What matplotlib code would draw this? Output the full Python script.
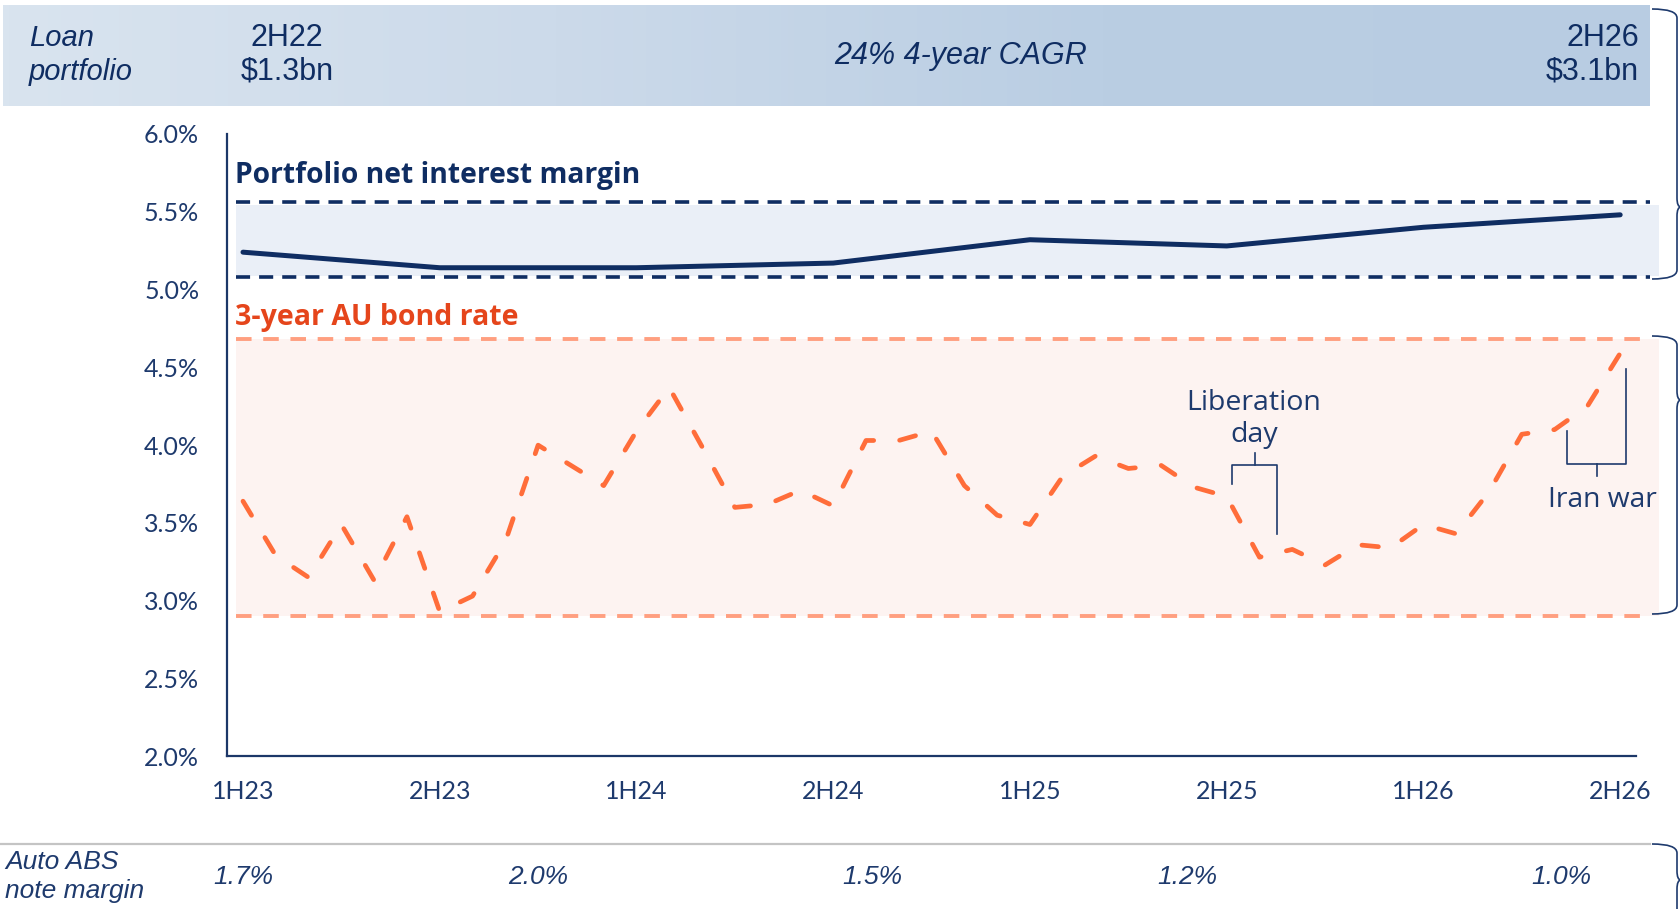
import numpy as np
import matplotlib.pyplot as plt
from matplotlib.colors import LinearSegmentedColormap
from matplotlib.lines import Line2D
from matplotlib.path import Path
from matplotlib.patches import PathPatch
from matplotlib.transforms import blended_transform_factory

W, H = 1680, 909

periods = ["1H23", "2H23", "1H24", "2H24", "1H25", "2H25", "1H26", "2H26"]
nim = [5.24, 5.14, 5.14, 5.17, 5.32, 5.28, 5.40, 5.48]
nim_range = [5.08, 5.56]

# 3-year AU bond rate, monthly from 1H23 to 2H26
bond = [3.64, 3.29, 3.15, 3.49, 3.13, 3.54, 2.93, 3.03, 3.38, 4.00,
        3.87, 3.74, 4.09, 4.37, 3.99, 3.60, 3.62, 3.71, 3.61, 4.03,
        4.03, 4.09, 3.74, 3.55, 3.49, 3.80, 3.93, 3.85, 3.87, 3.73,
        3.67, 3.28, 3.33, 3.23, 3.36, 3.34, 3.49, 3.43, 3.70, 4.07,
        4.10, 4.25, 4.59]
bond_range = [2.90, 4.68]

abs_labels = ["1.7%", "2.0%", "1.5%", "1.2%", "1.0%"]
abs_x = [0.0, 1.5, 3.2, 4.8, 6.7]

NAVY = "#0f2d62"
TXT = "#1e3a6d"
ORANGE = "#ff6d3a"
ORANGE_LT = "#ff9f80"
ORANGE_TXT = "#e5451b"
NARROW = ["Liberation Sans Narrow", "Liberation Sans", "DejaVu Sans"]
SANS = ["Lato", "DejaVu Sans"]
WIDE = ["Open Sans", "DejaVu Sans"]


def fx(x):
    return x / W


def fy(y):
    return 1 - y / H


fig = plt.figure(figsize=(W / 100, H / 100), dpi=100)

# banner with gradient
ax_b = fig.add_axes([fx(3), fy(106), fx(1647), 101 / H])
cmap = LinearSegmentedColormap.from_list("b", ["#d9e4ef", "#ccdaea", "#bacee3", "#b8cce2"])
ax_b.imshow(np.linspace(0, 1, 256)[None, :], cmap=cmap, aspect="auto", extent=[0, 1, 0, 1])
ax_b.axis("off")

fig.text(fx(29), fy(38), "Loan", color=NAVY, fontsize=21, style="italic", family=NARROW, va="center")
fig.text(fx(29), fy(72), "portfolio", color=NAVY, fontsize=21, style="italic", family=NARROW, va="center")
fig.text(fx(287), fy(38), "2H22", color=NAVY, fontsize=22, family=NARROW, ha="center", va="center")
fig.text(fx(287), fy(72), "$1.3bn", color=NAVY, fontsize=22, family=NARROW, ha="center", va="center")
fig.text(fx(961), fy(56), "24% 4-year CAGR", color=NAVY, fontsize=22, style="italic", family=NARROW,
         ha="center", va="center")
fig.text(fx(1639), fy(38), "2H26", color=NAVY, fontsize=22, family=NARROW, ha="right", va="center")
fig.text(fx(1639), fy(72), "$3.1bn", color=NAVY, fontsize=22, family=NARROW, ha="right", va="center")

# main axes
x0_px, x1_px, y_top, y_bot, step = 227, 1658.6, 133.9, 756.4, 196.74
ax = fig.add_axes([fx(x0_px), fy(y_bot), (x1_px - x0_px) / W, (y_bot - y_top) / H])
xl = ((x0_px - 243) / step, (x1_px - 243) / step)
ax.set_xlim(*xl)
ax.set_ylim(2, 6)
ax.patch.set_alpha(0)

band_l, band_r, dash_r = (235.7 - 243) / step, xl[1], (1650 - 243) / step
ax.fill_between([band_l, band_r], 5.085, 5.545, color="#eaeff7", lw=0, zorder=0)
ax.fill_between([band_l, band_r], bond_range[0], bond_range[1], color="#fdf3f1", lw=0, zorder=0)
ax.hlines(nim_range, band_l, dash_r, colors=NAVY, lw=2.6, linestyles=(0, (3.9, 2.5)), zorder=1)
ax.hlines(bond_range, band_l, dash_r, colors=ORANGE_LT, lw=2.8, linestyles=(0, (4.0, 3.0)), zorder=1)

ax.plot(np.arange(len(nim)), nim, color=NAVY, lw=3.6, solid_capstyle="round", zorder=3)
bx = np.arange(len(bond)) / 6
ax.plot(bx, bond, color=ORANGE, lw=3.4, dashes=(3.5, 5.5), dash_capstyle="round",
        solid_joinstyle="round", dash_joinstyle="round", zorder=3)

for s in ["top", "right"]:
    ax.spines[s].set_visible(False)
for s in ["left", "bottom"]:
    ax.spines[s].set_color("#1c3768")
    ax.spines[s].set_linewidth(1.6)
ax.spines["bottom"].set_bounds(xl[0], (1636 - 243) / step)

ax.set_yticks(np.arange(2.0, 6.01, 0.5))
ax.set_yticklabels([f"{v:.1f}%" for v in np.arange(2.0, 6.01, 0.5)])
ax.set_xticks(range(len(periods)))
ax.set_xticklabels(periods)
ax.tick_params(axis="y", length=0, pad=20, labelsize=18, labelcolor=TXT)
ax.tick_params(axis="x", length=0, pad=17, labelsize=18, labelcolor=TXT)
for lab in ax.get_xticklabels() + ax.get_yticklabels():
    lab.set_family(SANS)

fig.text(fx(235), fy(175.5), "Portfolio net interest margin", color=NAVY, fontsize=20.3,
         fontweight="bold", family=WIDE, va="center")
fig.text(fx(235), fy(317), "3-year AU bond rate", color=ORANGE_TXT, fontsize=20.5,
         fontweight="bold", family=WIDE, va="center")


def polyline(pts, **kw):
    xs = [fx(p[0]) for p in pts]
    ys = [fy(p[1]) for p in pts]
    fig.add_artist(Line2D(xs, ys, transform=fig.transFigure, **kw))


ann = dict(color=TXT, lw=1.2, solid_joinstyle="round")
polyline([(1232, 484), (1232, 465), (1277, 465), (1277, 534)], **ann)
polyline([(1255, 465), (1255, 453)], **ann)
fig.text(fx(1254), fy(403), "Liberation", color=TXT, fontsize=20.5, family=WIDE, ha="center", va="center")
fig.text(fx(1254), fy(435), "day", color=TXT, fontsize=20.5, family=WIDE, ha="center", va="center")

polyline([(1567, 431), (1567, 464), (1626, 464), (1626, 369)], **ann)
polyline([(1597, 464), (1597, 476)], **ann)
fig.text(fx(1602), fy(500), "Iran war", color=TXT, fontsize=20.3, family=WIDE, ha="center", va="center")


def curly(top, tip, bottom, xa=1652, xb=1677, r=9):
    pts = [(xa, top), (xb, top), (xb, top + r),
           (xb, tip - r), (xb, tip), (xb + 4, tip), (xb, tip), (xb, tip + r),
           (xb, bottom - r), (xb, bottom), (xa, bottom)]
    codes = [Path.MOVETO, Path.CURVE3, Path.CURVE3,
             Path.LINETO, Path.CURVE3, Path.CURVE3, Path.CURVE3, Path.CURVE3,
             Path.LINETO, Path.CURVE3, Path.CURVE3]
    verts = [(fx(x), fy(y)) for x, y in pts]
    fig.add_artist(PathPatch(Path(verts, codes), transform=fig.transFigure,
                             fill=False, edgecolor=TXT, lw=1.2))


curly(9, 207, 279)
curly(336, 400, 614)
curly(844, 880, 925)

# bottom row
fig.add_artist(Line2D([0, fx(1650)], [fy(844), fy(844)], transform=fig.transFigure,
                      color="#c4c4c4", lw=1.6))
fig.text(fx(5), fy(862), "Auto ABS", color=TXT, fontsize=19, style="italic", family=NARROW, va="center")
fig.text(fx(5), fy(891), "note margin", color=TXT, fontsize=19, style="italic", family=NARROW, va="center")
abs_tr = blended_transform_factory(ax.transData, fig.transFigure)
for lab, xv in zip(abs_labels, abs_x):
    ax.text(xv, fy(877), lab, transform=abs_tr, color=TXT, fontsize=19, style="italic",
            family=NARROW, ha="center", va="center")

fig.savefig("out.png", dpi=100)
